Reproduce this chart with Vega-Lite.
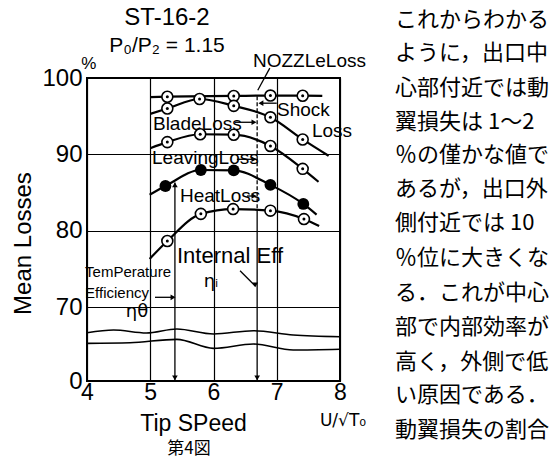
{
  "$schema": "https://vega.github.io/schema/vega-lite/v6.json",
  "width": 253,
  "height": 303,
  "autosize": {"type": "none"},
  "padding": {"left": 87, "top": 78, "right": 219, "bottom": 77},
  "background": "white",
  "config": {
    "view": {"stroke": "black", "strokeWidth": 2},
    "font": "Liberation Sans"
  },
  "datasets": {
    "waves": [
      {"w": "a", "x": 4.0, "y": 45.7}, {"w": "a", "x": 4.42, "y": 48.2}, {"w": "a", "x": 4.94, "y": 45.4},
      {"w": "a", "x": 5.42, "y": 49.2}, {"w": "a", "x": 6.0, "y": 44.5}, {"w": "a", "x": 6.63, "y": 47.6},
      {"w": "a", "x": 7.26, "y": 43.5}, {"w": "a", "x": 8.0, "y": 41.9},
      {"w": "b", "x": 4.0, "y": 35.6}, {"w": "b", "x": 4.68, "y": 36.2}, {"w": "b", "x": 5.42, "y": 39.4},
      {"w": "b", "x": 6.0, "y": 30.9}, {"w": "b", "x": 6.63, "y": 35.0}, {"w": "b", "x": 7.26, "y": 29.3},
      {"w": "b", "x": 8.0, "y": 30.0}
    ],
    "curves": [
      {"s": "Nozzle", "x": 5.0, "y": 97.5}, {"s": "Nozzle", "x": 5.27, "y": 97.55}, {"s": "Nozzle", "x": 6.32, "y": 97.65},
      {"s": "Nozzle", "x": 6.9, "y": 97.7}, {"s": "Nozzle", "x": 7.41, "y": 97.68}, {"s": "Nozzle", "x": 7.72, "y": 97.65},
      {"s": "Shock", "x": 5.0, "y": 95.3}, {"s": "Shock", "x": 5.27, "y": 96.0}, {"s": "Shock", "x": 5.78, "y": 97.25},
      {"s": "Shock", "x": 6.32, "y": 96.35}, {"s": "Shock", "x": 6.9, "y": 94.85}, {"s": "Shock", "x": 7.41, "y": 91.95},
      {"s": "Shock", "x": 7.82, "y": 89.8},
      {"s": "Blade", "x": 5.0, "y": 90.8}, {"s": "Blade", "x": 5.27, "y": 91.6}, {"s": "Blade", "x": 5.79, "y": 92.63},
      {"s": "Blade", "x": 6.32, "y": 92.57}, {"s": "Blade", "x": 6.9, "y": 91.1}, {"s": "Blade", "x": 7.41, "y": 88.1},
      {"s": "Blade", "x": 7.66, "y": 86.4},
      {"s": "Leaving", "x": 4.99, "y": 84.7}, {"s": "Leaving", "x": 5.24, "y": 85.85}, {"s": "Leaving", "x": 5.8, "y": 87.95},
      {"s": "Leaving", "x": 6.32, "y": 87.9}, {"s": "Leaving", "x": 6.9, "y": 86.0}, {"s": "Leaving", "x": 7.42, "y": 83.5},
      {"s": "Leaving", "x": 7.63, "y": 82.1},
      {"s": "Heat", "x": 4.99, "y": 76.3}, {"s": "Heat", "x": 5.27, "y": 78.65}, {"s": "Heat", "x": 5.8, "y": 82.2},
      {"s": "Heat", "x": 6.31, "y": 82.83}, {"s": "Heat", "x": 6.9, "y": 82.62}, {"s": "Heat", "x": 7.43, "y": 81.52},
      {"s": "Heat", "x": 7.67, "y": 80.6}
    ],
    "opts": [
      {"s": "Nozzle", "x": 5.27, "y": 97.55}, {"s": "Nozzle", "x": 6.32, "y": 97.65}, {"s": "Nozzle", "x": 6.9, "y": 97.7}, {"s": "Nozzle", "x": 7.41, "y": 97.68},
      {"s": "Shock", "x": 5.27, "y": 96.0}, {"s": "Shock", "x": 5.78, "y": 97.25}, {"s": "Shock", "x": 6.32, "y": 96.35}, {"s": "Shock", "x": 6.9, "y": 94.85}, {"s": "Shock", "x": 7.41, "y": 91.95},
      {"s": "Blade", "x": 5.27, "y": 91.6}, {"s": "Blade", "x": 5.79, "y": 92.63}, {"s": "Blade", "x": 6.32, "y": 92.57}, {"s": "Blade", "x": 6.9, "y": 91.1}, {"s": "Blade", "x": 7.41, "y": 88.1},
      {"s": "Heat", "x": 5.27, "y": 78.65}, {"s": "Heat", "x": 5.8, "y": 82.2}, {"s": "Heat", "x": 6.31, "y": 82.83}, {"s": "Heat", "x": 6.9, "y": 82.62}, {"s": "Heat", "x": 7.43, "y": 81.52}
    ],
    "fpts": [
      {"s": "Leaving", "x": 5.24, "y": 85.85}, {"s": "Leaving", "x": 5.8, "y": 87.95}, {"s": "Leaving", "x": 6.32, "y": 87.9},
      {"s": "Leaving", "x": 6.9, "y": 86.0}, {"s": "Leaving", "x": 7.42, "y": 83.5}
    ],
    "segs": [
      {"x": 5.39, "y": 86.3, "x2": 5.39, "y2": 0},
      {"x": 6.69, "y": 82.8, "x2": 6.69, "y2": 0},
      {"x": 6.89, "y": 101.3, "x2": 6.7, "y2": 98.4},
      {"x": 7.0, "y": 96.7, "x2": 6.74, "y2": 96.7},
      {"x": 6.34, "y": 94.2, "x2": 6.64, "y2": 94.2},
      {"x": 6.37, "y": 89.35, "x2": 6.64, "y2": 89.35},
      {"x": 6.53, "y": 84.54, "x2": 6.64, "y2": 84.54},
      {"x": 6.42, "y": 74.75, "x2": 6.66, "y2": 72.75},
      {"x": 5.075, "y": 71.27, "x2": 5.37, "y2": 71.27}
    ],
    "dashed": [
      {"x": 6.69, "y": 97.6, "x2": 6.69, "y2": 82.8}
    ],
    "heads": [
      {"x": 6.75, "y": 96.7, "d": "left"},
      {"x": 6.64, "y": 94.2, "d": "right"},
      {"x": 6.64, "y": 89.35, "d": "right"},
      {"x": 6.64, "y": 84.54, "d": "right"},
      {"x": 5.36, "y": 71.27, "d": "right"},
      {"x": 5.39, "y": 86.0, "d": "up"},
      {"x": 5.39, "y": 3.0, "d": "down"},
      {"x": 6.69, "y": 3.0, "d": "down"},
      {"x": 6.66, "y": 72.9, "d": "down"}
    ],
    "titles": [
      {"t": "ST-16-2", "x": 5.265, "y": 107.86}
    ],
    "ratio": [
      {"t": "P₀/P₂ = 1.15", "x": 5.265, "y": 104.19}
    ],
    "anno": [
      {"t": "NOZZLeLoss", "x": 6.624, "y": 102.23},
      {"t": "Shock", "x": 7.004, "y": 95.81},
      {"t": "Loss", "x": 7.557, "y": 93.06},
      {"t": "BladeLoss", "x": 5.043, "y": 93.91},
      {"t": "LeavingLoss", "x": 5.028, "y": 89.52},
      {"t": "HeatLoss", "x": 5.47, "y": 84.54}
    ],
    "anno2": [
      {"t": "Internal Eff", "x": 5.423, "y": 76.68}
    ],
    "small": [
      {"t": "TemPerature", "x": 3.97, "y": 74.58},
      {"t": "Efficiency", "x": 3.97, "y": 71.83}
    ],
    "greek": [
      {"t": "ηᵢ", "x": 5.96, "y": 73.27},
      {"t": "ηθ", "x": 4.79, "y": 64.8}
    ],
    "pct": [
      {"t": "%", "x": 4.03, "y": 101.83}
    ],
    "unit": [
      {"t": "U/√T₀", "x": 8.047, "y": -37.8}
    ],
    "caption": [
      {"t": "第4図", "x": 5.613, "y": -64.3}
    ],
    "jp": [
      {"t": "これからわかる", "x": 8.87, "y": 107.6},
      {"t": "ように，出口中", "x": 8.87, "y": 103.28},
      {"t": "心部付近では動", "x": 8.87, "y": 98.69},
      {"t": "翼損失は 1～2", "x": 8.87, "y": 94.24},
      {"t": "％の僅かな値で", "x": 8.87, "y": 89.91},
      {"t": "あるが，出口外", "x": 8.87, "y": 85.46},
      {"t": "側付近では 10", "x": 8.87, "y": 81.0},
      {"t": "％位に大きくな", "x": 8.87, "y": 76.42},
      {"t": "る．これが中心", "x": 8.87, "y": 71.83},
      {"t": "部で内部効率が", "x": 8.87, "y": 51.08},
      {"t": "高く，外側で低", "x": 8.87, "y": 17.97},
      {"t": "い原因である．", "x": 8.87, "y": -13.24},
      {"t": "動翼損失の割合", "x": 8.87, "y": -46.35}
    ]
  },
  "encoding": {
    "x": {
      "field": "x", "type": "quantitative",
      "scale": {"domain": [4, 8], "nice": false, "zero": false},
      "axis": {
        "values": [4, 5, 6, 7, 8], "title": "Tip SPeed", "domain": false, "ticks": false,
        "grid": true, "gridColor": "black", "gridOpacity": 1, "gridWidth": 1.2,
        "labelFont": "Liberation Sans", "labelFontSize": 23, "labelColor": "black",
        "labelPadding": 0, "labelFlush": false,
        "titleFont": "Liberation Sans", "titleFontSize": 23, "titleFontWeight": "normal", "titleColor": "black",
        "titleX": 106, "titleY": 42, "titleBaseline": "middle", "titleAlign": "center"
      }
    },
    "y": {
      "field": "y", "type": "quantitative",
      "scale": {"domain": [0, 70, 100], "range": [303, 229, 0], "nice": false, "zero": false},
      "axis": {
        "values": [0, 70, 80, 90, 100], "title": "Mean Losses", "domain": false, "ticks": false,
        "grid": true, "gridColor": "black", "gridOpacity": 1, "gridWidth": 1.2,
        "labelFont": "Liberation Sans", "labelFontSize": 24, "labelColor": "black",
        "labelPadding": 5, "labelFlush": false,
        "titleFont": "Liberation Sans", "titleFontSize": 24, "titleFontWeight": "normal", "titleColor": "black",
        "titleX": -64, "titleY": 165, "titleAngle": 270, "titleBaseline": "middle", "titleAlign": "center"
      }
    }
  },
  "layer": [
    {
      "data": {"name": "waves"},
      "mark": {"type": "line", "interpolate": "monotone", "color": "black", "strokeWidth": 1.6},
      "encoding": {"detail": {"field": "w"}}
    },
    {
      "data": {"name": "segs"},
      "mark": {"type": "rule", "color": "black", "strokeWidth": 1.3},
      "encoding": {"x2": {"field": "x2"}, "y2": {"field": "y2"}}
    },
    {
      "data": {"name": "dashed"},
      "mark": {"type": "rule", "color": "black", "strokeWidth": 1.3, "strokeDash": [4, 2]},
      "encoding": {"x2": {"field": "x2"}, "y2": {"field": "y2"}}
    },
    {
      "data": {"name": "curves"},
      "mark": {"type": "line", "interpolate": "monotone", "color": "black", "strokeWidth": 2.2},
      "encoding": {"detail": {"field": "s"}}
    },
    {
      "data": {"name": "opts"},
      "mark": {"type": "point", "shape": "circle", "filled": true, "fill": "white", "stroke": "black", "strokeWidth": 1.6, "size": 120, "opacity": 1}
    },
    {
      "data": {"name": "opts"},
      "mark": {"type": "point", "shape": "circle", "filled": true, "color": "black", "size": 9, "opacity": 1}
    },
    {
      "data": {"name": "fpts"},
      "mark": {"type": "point", "shape": "circle", "filled": true, "color": "black", "size": 140, "opacity": 1}
    },
    {
      "data": {"name": "heads"},
      "mark": {"type": "point", "filled": true, "color": "black", "size": 32, "opacity": 1},
      "encoding": {
        "shape": {"field": "d", "type": "nominal", "legend": null,
          "scale": {"domain": ["left", "right", "up", "down"], "range": ["triangle-left", "triangle-right", "triangle-up", "triangle-down"]}}
      }
    },
    {
      "data": {"name": "titles"},
      "mark": {"type": "text", "font": "Liberation Sans", "fontSize": 24, "align": "center", "baseline": "middle", "color": "black"},
      "encoding": {"text": {"field": "t"}}
    },
    {
      "data": {"name": "ratio"},
      "mark": {"type": "text", "font": "Liberation Sans", "fontSize": 21, "align": "center", "baseline": "middle", "color": "black"},
      "encoding": {"text": {"field": "t"}}
    },
    {
      "data": {"name": "anno"},
      "mark": {"type": "text", "font": "Liberation Sans", "fontSize": 19, "align": "left", "baseline": "middle", "color": "black"},
      "encoding": {"text": {"field": "t"}}
    },
    {
      "data": {"name": "anno2"},
      "mark": {"type": "text", "font": "Liberation Sans", "fontSize": 22, "align": "left", "baseline": "middle", "color": "black"},
      "encoding": {"text": {"field": "t"}}
    },
    {
      "data": {"name": "small"},
      "mark": {"type": "text", "font": "Liberation Sans", "fontSize": 15, "align": "left", "baseline": "middle", "color": "black"},
      "encoding": {"text": {"field": "t"}}
    },
    {
      "data": {"name": "greek"},
      "mark": {"type": "text", "font": "DejaVu Sans", "fontSize": 18, "align": "center", "baseline": "middle", "color": "black"},
      "encoding": {"text": {"field": "t"}}
    },
    {
      "data": {"name": "pct"},
      "mark": {"type": "text", "font": "Liberation Sans", "fontSize": 17, "align": "center", "baseline": "middle", "color": "black"},
      "encoding": {"text": {"field": "t"}}
    },
    {
      "data": {"name": "unit"},
      "mark": {"type": "text", "font": "DejaVu Sans", "fontSize": 17, "align": "center", "baseline": "middle", "color": "black"},
      "encoding": {"text": {"field": "t"}}
    },
    {
      "data": {"name": "caption"},
      "mark": {"type": "text", "font": "Noto Sans CJK JP", "fontSize": 17, "align": "center", "baseline": "middle", "color": "black"},
      "encoding": {"text": {"field": "t"}}
    },
    {
      "data": {"name": "jp"},
      "mark": {"type": "text", "font": "Noto Sans CJK JP", "fontSize": 22, "align": "left", "baseline": "middle", "color": "black"},
      "encoding": {"text": {"field": "t"}}
    }
  ]
}
